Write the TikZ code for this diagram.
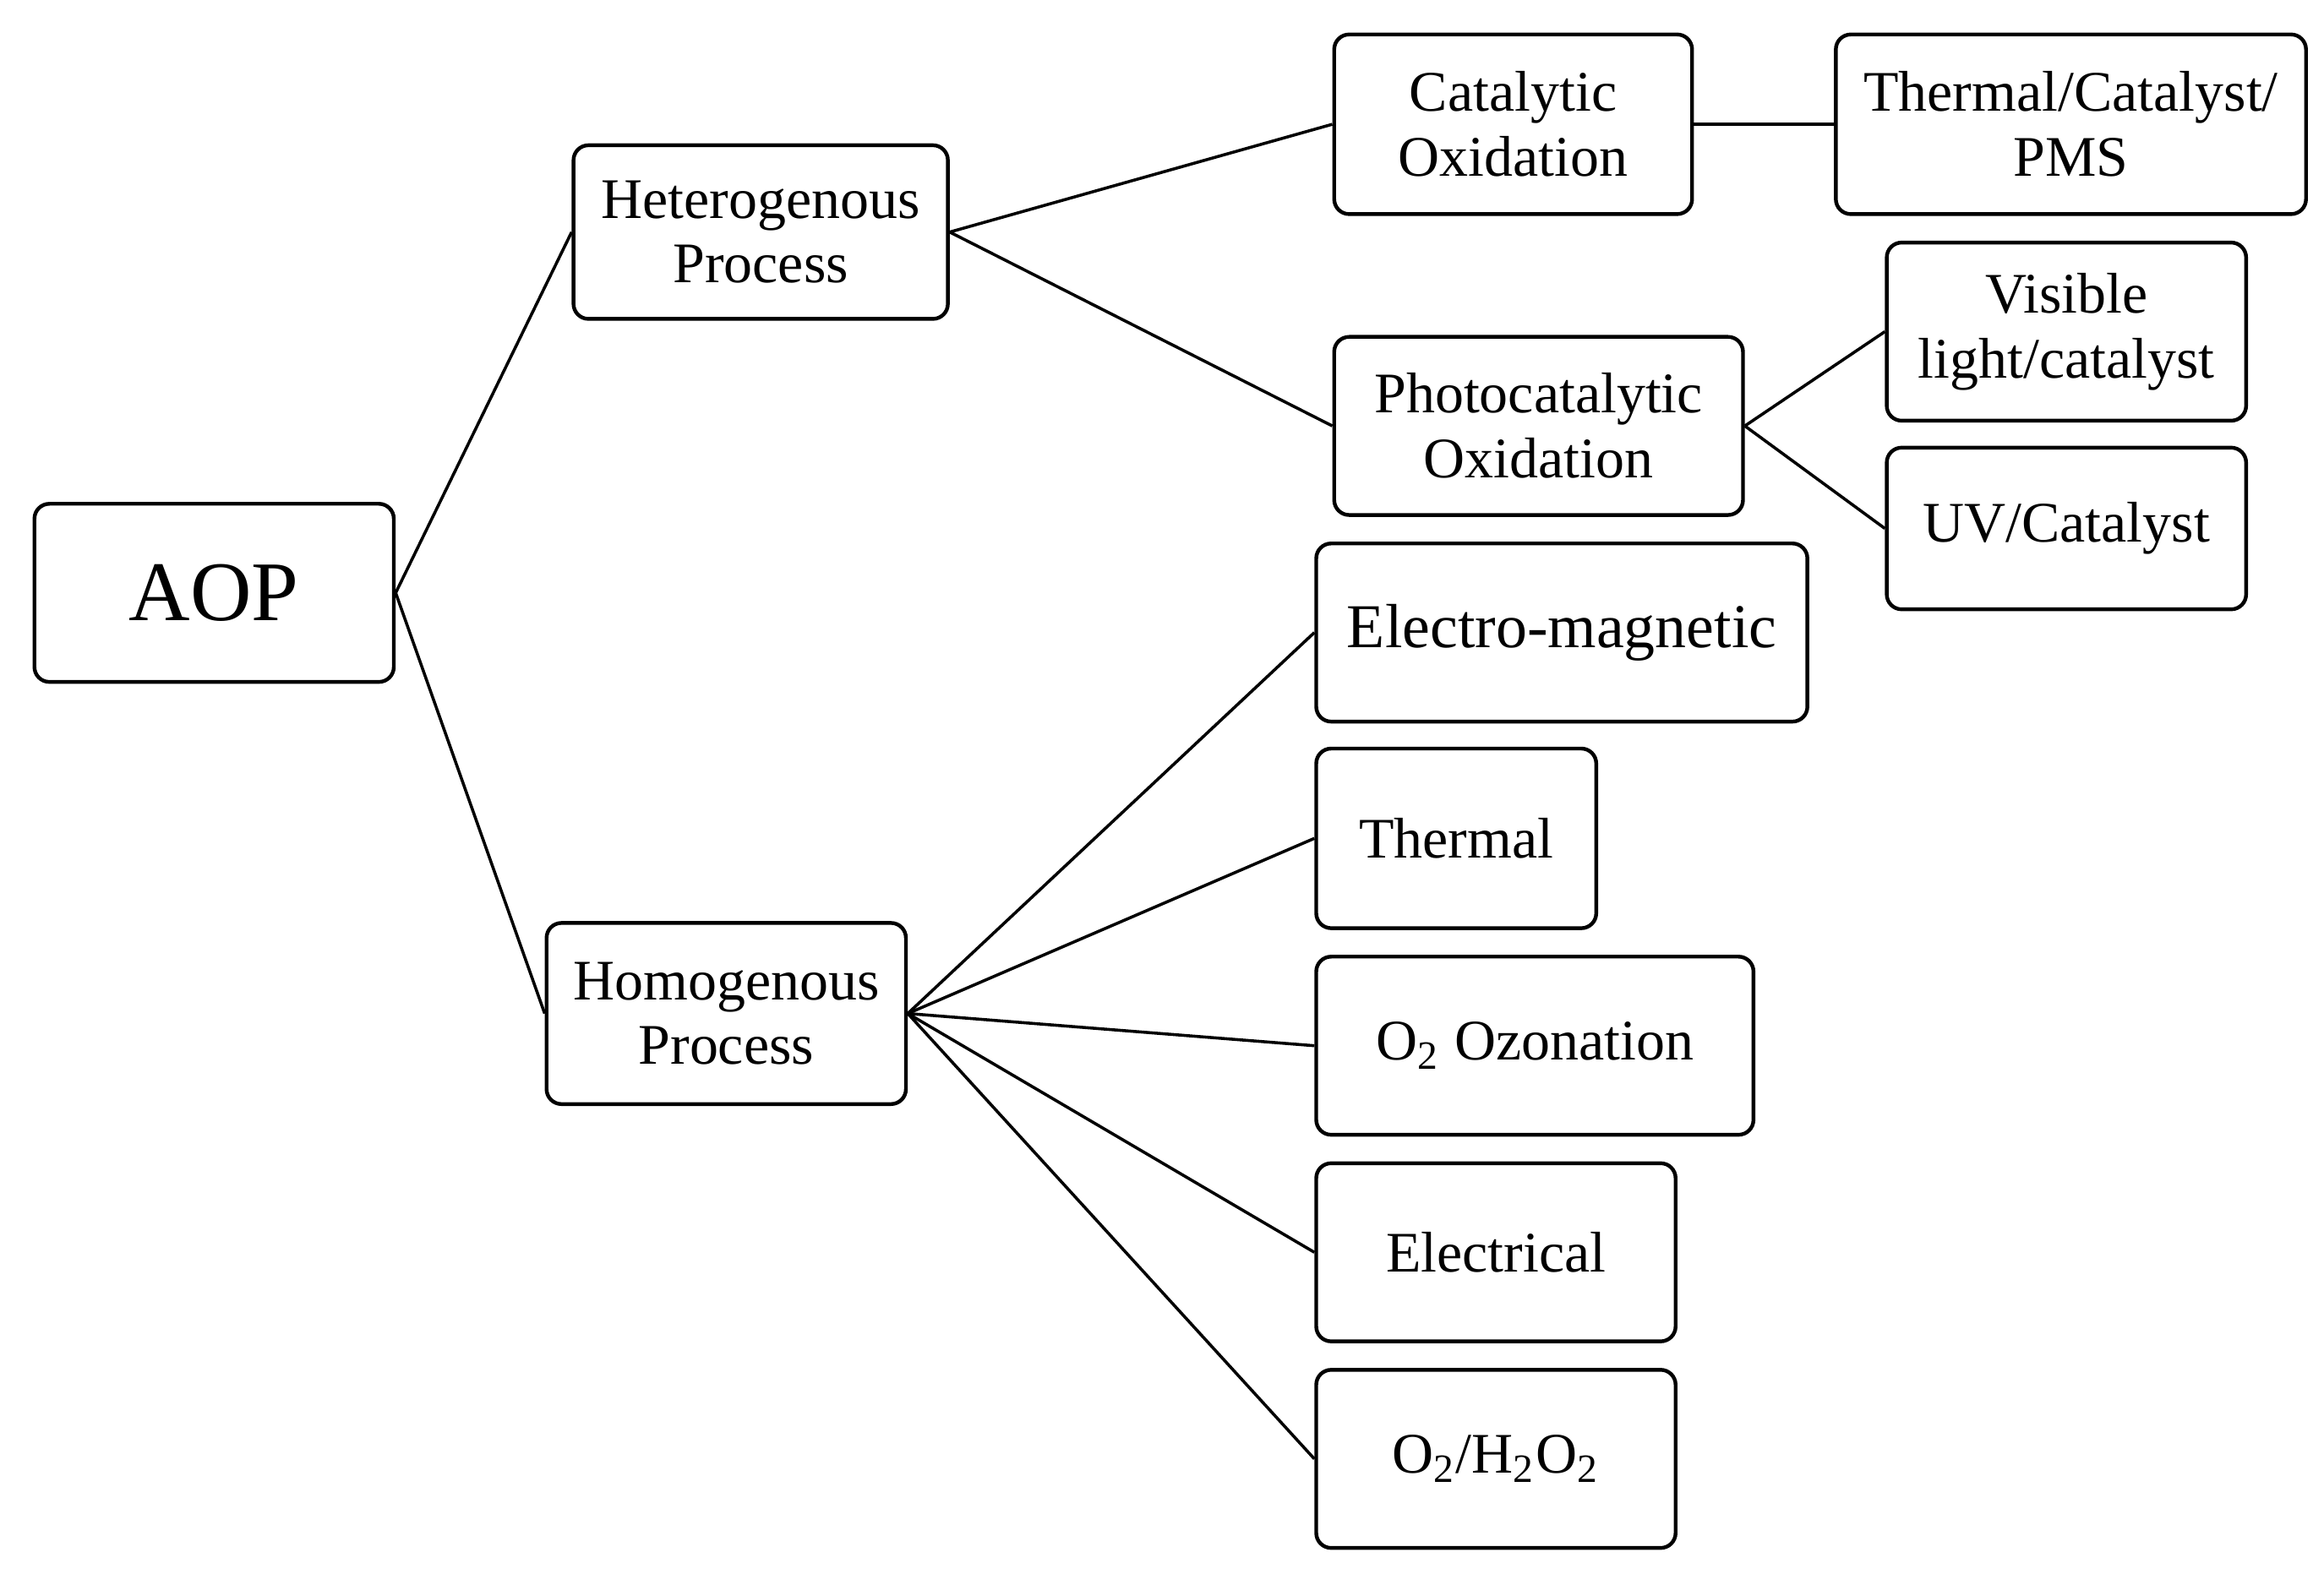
\documentclass[tikz,border=0pt]{standalone}
\usepackage{fontspec}
\setmainfont{Liberation Serif}
\begin{document}
\begin{tikzpicture}[x=0.3pt,y=-0.3pt,
 box/.style={draw,line width=0.75pt,rounded corners=3pt,align=center,inner sep=1pt,font=\fontsize{11.5}{13}\selectfont},
 ln/.style={line width=0.6pt}]
\useasboundingbox (0,0) rectangle (1552,1051);
\newcommand{\bx}[6]{\node[box,minimum width=#4*0.3pt,minimum height=#5*0.3pt] (#1) at (#2,#3) {#6};}
\bx{aop}{143}{396}{240}{119}{\fontsize{17}{19}\selectfont AOP}
\bx{het}{508}{155}{250}{116}{Heterogenous\\Process}
\bx{hom}{485}{677}{240}{121}{Homogenous\\Process}
\bx{cat}{1010.5}{83}{239}{120}{Catalytic\\Oxidation}
\bx{tcp}{1383}{83}{314}{120}{Thermal/Catalyst/\\PMS}
\bx{pho}{1027.5}{284.5}{273}{119}{Photocatalytic\\Oxidation}
\bx{vis}{1380}{221.5}{240}{119}{Visible\\light/catalyst}
\bx{uv}{1380}{353}{240}{108}{UV/Catalyst}
\bx{em}{1043}{422.5}{328}{119}{\fontsize{12.5}{14}\selectfont Electro-magnetic}
\bx{th}{972.5}{560}{187}{120}{Thermal}
\bx{oz}{1025}{698.5}{292}{119}{O\textsubscript{2} Ozonation}
\bx{el}{999}{836.5}{240}{119}{Electrical}
\bx{oh}{999}{974.5}{240}{119}{O\textsubscript{2}/H\textsubscript{2}O\textsubscript{2}}
\draw[ln] (aop.east) -- (het.west);
\draw[ln] (aop.east) -- (hom.west);
\draw[ln] (het.east) -- (cat.west);
\draw[ln] (het.east) -- (pho.west);
\draw[ln] (cat.east) -- (tcp.west);
\draw[ln] (pho.east) -- (vis.west);
\draw[ln] (pho.east) -- (uv.west);
\foreach \n in {em,th,oz,el,oh} \draw[ln] (hom.east) -- (\n.west);
\end{tikzpicture}
\end{document}
